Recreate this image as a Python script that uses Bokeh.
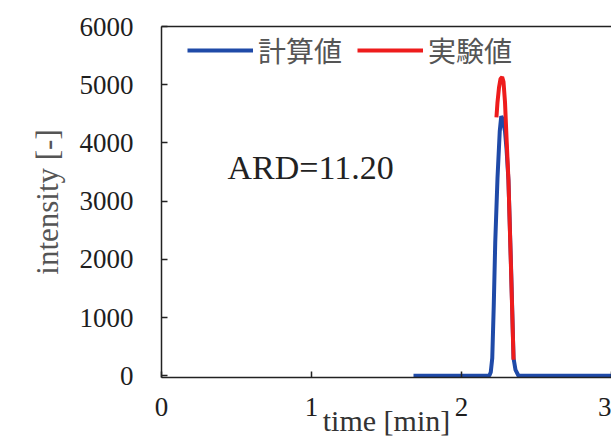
from bokeh.plotting import figure
from bokeh.models import LinearAxis, FixedTicker, Range1d, Label
from bokeh.embed import file_html
from bokeh.resources import INLINE

# ---- data ----
calc_x = [1.68, 2.00, 2.15, 2.185, 2.195, 2.205, 2.215, 2.225, 2.24, 2.255, 2.265,
          2.275, 2.29, 2.30, 2.313, 2.33, 2.347, 2.36, 2.38, 2.60, 3.00]
calc_y = [0, 0, 0, 0, 60, 300, 1200, 2300, 3400, 4200, 4460,
          4400, 4200, 3900, 3360, 1900, 300, 100, 0, 0, 0]

exp_x = [2.233, 2.24, 2.25, 2.26, 2.271, 2.28, 2.29, 2.30, 2.313, 2.33, 2.347]
exp_y = [4440, 4700, 4950, 5100, 5130, 5050, 4700, 4100, 3360, 1850, 274]

x_ticks = [0, 1, 2, 3]
y_ticks = [0, 1000, 2000, 3000, 4000, 5000, 6000]

series_names = ["計算値", "実験値"]
ard_text = "ARD=11.20"
x_title = "time [min]"
y_title = "intensity [-]"

BLUE = "#1f4aa8"
RED = "#ee1c1c"
SERIF = "Liberation Serif"

p = figure(width=611, height=439, output_backend="svg", toolbar_location=None,
           x_range=Range1d(0, 3.0), y_range=Range1d(-30, 6000),
           min_border_left=161, min_border_right=0, min_border_top=26,
           min_border_bottom=62)
p.outline_line_color = None
p.xgrid.visible = False
p.ygrid.visible = False

for ax in (p.xaxis[0], p.yaxis[0]):
    ax.axis_line_color = "#222222"
    ax.axis_line_width = 1.5
    ax.major_tick_line_color = "#222222"
    ax.major_tick_line_width = 1.5
    ax.major_tick_in = 6
    ax.major_tick_out = 0
    ax.minor_tick_in = 0
    ax.minor_tick_out = 0
    ax.major_label_text_font = SERIF
    ax.major_label_text_font_size = "27px"
    ax.major_label_text_color = "#1e1e1e"

p.xaxis.ticker = FixedTicker(ticks=x_ticks)
p.yaxis.ticker = FixedTicker(ticks=y_ticks)
p.xaxis.major_label_standoff = 20
p.yaxis.major_label_standoff = 28

p.yaxis.axis_label = y_title
p.yaxis.axis_label_text_font = SERIF
p.yaxis.axis_label_text_font_size = "31px"
p.yaxis.axis_label_text_font_style = "normal"
p.yaxis.axis_label_text_color = "#555555"
p.yaxis.axis_label_standoff = 12

p.xaxis.axis_label = x_title
p.xaxis.axis_label_text_font = SERIF
p.xaxis.axis_label_text_font_size = "30px"
p.xaxis.axis_label_text_font_style = "normal"
p.xaxis.axis_label_text_color = "#333333"
p.xaxis.axis_label_standoff = -15

top = LinearAxis(ticker=FixedTicker(ticks=[]), major_tick_in=0, major_tick_out=0,
                 minor_tick_in=0, minor_tick_out=0, major_label_standoff=0,
                 major_label_text_font_size="0px",
                 axis_line_color="#222222", axis_line_width=1.5)
p.add_layout(top, "above")

p.line(calc_x, calc_y, line_color=BLUE, line_width=4, legend_label=series_names[0])
p.line(exp_x, exp_y, line_color=RED, line_width=4, legend_label=series_names[1])

lg = p.legend[0]
lg.orientation = "horizontal"
lg.location = (26, 307)
lg.padding = 0
lg.margin = 0
lg.spacing = 15
lg.label_standoff = 5
lg.glyph_width = 66
lg.glyph_height = 36
lg.label_height = 36
lg.label_text_font = "Noto Sans CJK JP"
lg.label_text_font_size = "28px"
lg.label_text_color = "#555555"
lg.border_line_color = None
lg.background_fill_alpha = 0

p.add_layout(Label(x=0.44, y=3580, text=ard_text, text_font=SERIF,
                   text_font_size="34px", text_color="#222222",
                   text_baseline="alphabetic"))

open("out.html", "w").write(file_html(p, INLINE))
